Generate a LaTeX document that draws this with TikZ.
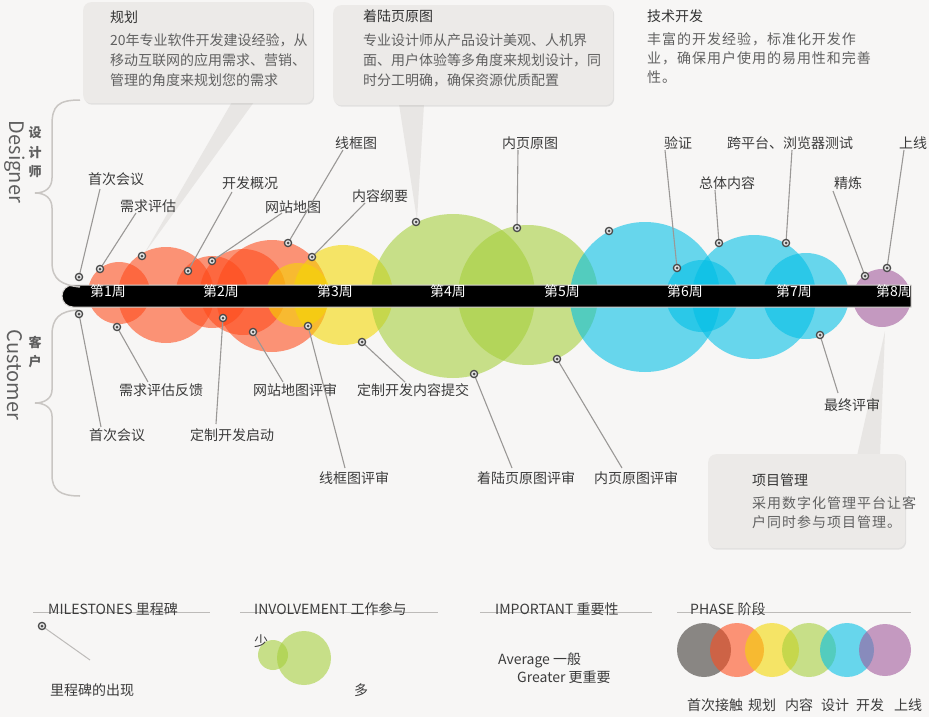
\documentclass[tikz,border=0pt]{standalone}
\usepackage{fontspec}
\setmainfont{Noto Sans CJK SC}
\newfontfamily\spcjk[LetterSpace=7]{Noto Sans CJK SC}
\usetikzlibrary{shadows}
\definecolor{bg}{HTML}{F7F6F5}
\definecolor{boxc}{HTML}{ECEAE8}
\definecolor{tailc}{HTML}{E8E6E4}
\definecolor{txt}{HTML}{3C3C3C}
\definecolor{bodyc}{HTML}{616161}
\definecolor{titc}{HTML}{333333}
\definecolor{lineg}{HTML}{9A9896}
\definecolor{bracec}{HTML}{C9C6C3}
\definecolor{hdrline}{HTML}{BDBBB9}
\definecolor{sidec}{HTML}{5F5F5F}
\definecolor{msc}{HTML}{4A4A4A}
\definecolor{barline}{HTML}{D9D6D3}
\definecolor{cgray}{HTML}{3A3632}
\definecolor{ccoral}{HTML}{FF4A1A}
\definecolor{cyel}{HTML}{F5D800}
\definecolor{cgreen}{HTML}{A5CF3A}
\definecolor{cblue}{HTML}{00BFE6}
\definecolor{cpurp}{HTML}{A0569A}
\begin{document}
\begin{tikzpicture}[x=1pt,y=-1pt,
  lbl/.style={inner sep=0pt, text=txt, font=\fontsize{14}{16}\selectfont},
  wk/.style={inner sep=0pt, text=white, font=\fontsize{14}{16}\selectfont},
  ctitle/.style={inner sep=0pt, anchor=west, text=titc, font=\fontsize{14}{16}\selectfont},
  cbody/.style={inner sep=0pt, anchor=west, text=bodyc, font=\fontsize{14}{16}\selectfont},
  sbody/.style={inner sep=0pt, anchor=west, text=bodyc, font=\spcjk\fontsize{14}{16}\selectfont},
  cbox/.style={fill=boxc, rounded corners=8pt, inner sep=0pt, anchor=north west,
    drop shadow={shadow xshift=1pt, shadow yshift=-1.5pt, opacity=0.18}},
  conn/.style={draw=lineg, line width=1.1pt},
  tailsh/.style={fill=tailc},
  bub/.style={opacity=0.58},
  brc/.style={draw=bracec, line width=1.5pt},
  hdr/.style={inner sep=0pt, anchor=west, text=txt, font=\fontsize{14}{16}\selectfont},
  hdrl/.style={draw=hdrline, line width=0.9pt},
  side/.style={inner sep=0pt, text=sidec, font=\fontsize{20}{22}\selectfont, rotate=-90},
  sidecn/.style={inner sep=0pt, text=sidec, font=\bfseries\fontsize{13}{15}\selectfont},
  msdot/.pic={\fill[msc] (0,0) circle (4.3); \fill[white!80!gray] (0,0) circle (2.8); \fill[msc] (0,0) circle (1.5);}
]
% background
\fill[bg] (0,0) rectangle (929,717);
\useasboundingbox (0,0) rectangle (929,717);

% callout tails
\fill[tailsh] (232,102) -- (254,102) -- (144,254) -- cycle;
\fill[tailsh] (399,104) -- (424,104) -- (417,220) -- cycle;
\fill[tailsh] (857,456) -- (880,456) -- (885,331) -- cycle;

% bubbles
\fill[ccoral,bub] (119,293) circle (31);
\fill[ccoral,bub] (166,295) circle (48);
\fill[ccoral,bub] (212,292) circle (36);
\fill[ccoral,bub] (243,292) circle (43);
\fill[ccoral,bub] (272,296) circle (56);
\fill[cyel,bub] (298,295) circle (32);
\fill[cyel,bub] (343,295) circle (50);
\fill[cgreen,bub] (453,296) circle (82);
\fill[cgreen,bub] (528,295) circle (70);
\fill[cblue,bub] (645,297) circle (75);
\fill[cblue,bub] (702,296) circle (36);
\fill[cblue,bub] (754,297) circle (62);
\fill[cblue,bub] (806,296) circle (43);
\fill[cpurp,bub] (882,298) circle (29);

% timeline bar
\draw[fill=black, draw=barline, line width=1pt] (911,285) -- (73,285) arc[start angle=270, end angle=90, radius=11] -- (911,307) -- cycle;
\foreach \i/\x in {1/108,2/221,3/335,4/448,5/562,6/685,7/794,8/894}
  \node[wk] (w\i) at (\x,291) {第\i 周};

% braces
\draw[brc] (80,100) .. controls (58,100) and (52,106) .. (52,125) -- (52,178)
  .. controls (52,188) and (45,193) .. (35,193) .. controls (45,193) and (52,198) .. (52,208)
  -- (52,262) .. controls (52,280) and (62,285) .. (80,287);
\draw[brc] (78,310) .. controls (60,311) and (52,318) .. (52,335) -- (52,390)
  .. controls (52,398) and (45,403) .. (35,403) .. controls (45,403) and (52,408) .. (52,416)
  -- (52,475) .. controls (52,490) and (60,496) .. (80,496);
\node[side] (sdes) at (15,162) {Designer};
\node[side] (scus) at (15,375) {Customer};
\node[sidecn] (s1) at (35,133) {设};
\node[sidecn] (s2) at (35,153) {计};
\node[sidecn] (s3) at (35,172) {师};
\node[sidecn] (s4) at (35,342) {客};
\node[sidecn] (s5) at (35,362) {户};

% callouts
\node[cbox, minimum width=230pt, minimum height=101pt] (cb1) at (83,2) {};
\node[ctitle] (cb1t) at (110,17) {规划};
\node[cbody] (cb1a) at (110,40) {20年专业软件开发建设经验，从};
\node[cbody] (cb1b) at (110,60) {移动互联网的应用需求、营销、};
\node[cbody] (cb1c) at (110,80) {管理的角度来规划您的需求};

\node[cbox, minimum width=280pt, minimum height=100pt] (cb2) at (333,5) {};
\node[ctitle] (cb2t) at (363,16) {着陆页原图};
\node[cbody] (cb2a) at (363,40) {专业设计师从产品设计美观、人机界};
\node[cbody] (cb2b) at (363,60) {面、用户体验等多角度来规划设计，同};
\node[cbody] (cb2c) at (363,80) {时分工明确，确保资源优质配置};

\node[ctitle] (cb3t) at (647,16) {技术开发};
\node[sbody] (cb3a) at (647,39) {丰富的开发经验，标准化开发作};
\node[sbody] (cb3b) at (647,58) {业，确保用户使用的易用性和完善};
\node[sbody] (cb3c) at (647,77) {性。};

\node[cbox, minimum width=197pt, minimum height=94pt] (cb4) at (708,454) {};
\node[ctitle] (cb4t) at (752,480) {项目管理};
\node[sbody] (cb4a) at (752,503) {采用数字化管理平台让客};
\node[sbody] (cb4b) at (752,522) {户同时参与项目管理。};

% milestones with labels
\foreach \n/\dx/\dy/\ex/\ey/\lx/\ly/\lab in {
 a/79/277/100/189/116/179/首次会议,
 b/100/269/136/213/148/206/需求评估,
 c/188/271/232/192/250/183/开发概况,
 d/212/261/282/213/293/207/网站地图,
 e/288/243/343/150/356/143/线框图,
 f/312/257/365/203/380/196/内容纲要,
 g/517/228/518/150/530/143/内页原图,
 h/677/268/665/150/678/143/验证,
 i/719/243/715/190/727/183/总体内容,
 j/786/243/792/150/790/143/跨平台、浏览器测试,
 k/865/276/833/191/848/183/精炼,
 m/79/314/101/427/117/435/首次会议,
 n/117/327/148/382/161/390/需求评估反馈,
 o/223/318/216/424/232/435/定制开发启动,
 p/253/332/283/382/295/390/网站地图评审,
 q/308/326/345/468/354/478/线框图评审,
 r/362/342/405/382/413/390/定制开发内容提交,
 s/474/374/512/468/526/478/着陆页原图评审,
 t/557/359/622/468/636/478/内页原图评审,
 u/820/335/838/393/852/405/最终评审} {
  \coordinate (d\n) at (\dx,\dy);
  \coordinate (e\n) at (\ex,\ey);
  \node[lbl] (l\n) at (\lx,\ly) {\lab};
  \draw[conn] (d\n) -- (e\n);
}
\coordinate (dy) at (887,268);
\coordinate (ey) at (904,150);
\node[lbl, anchor=west] (ly) at (899,143) {上线};
\draw[conn] (dy) -- (ey);
\coordinate (dv) at (142,256);
\coordinate (dw) at (416,222);
\coordinate (dx) at (609,231);
\foreach \n in {a,b,c,d,e,f,g,h,i,j,k,m,n,o,p,q,r,s,t,u,v,w,x,y}
  \pic at (d\n) {msdot};

% legend
\draw[hdrl] (33,612) -- (210,612);
\node[hdr] (h1) at (48,609) {MILESTONES 里程碑};
\coordinate (dz) at (42,626);
\coordinate (ez) at (90,660);
\draw[draw=hdrline, line width=1pt] (dz) -- (ez);
\pic at (dz) {msdot};
\node[hdr] (h1a) at (50,690) {里程碑的出现};

\draw[hdrl] (240,612) -- (438,612);
\node[hdr] (h2) at (254,609) {INVOLVEMENT 工作参与};
\fill[cgreen,bub] (273,655) circle (15);
\fill[cgreen,bub] (304,658) circle (27);
\node[lbl] (h2a) at (261,641) {少};
\node[lbl] (h2b) at (361,690) {多};

\draw[hdrl] (480,612) -- (652,612);
\node[hdr] (h3) at (495,609) {IMPORTANT 重要性};
\node[hdr] (h3a) at (498,660) {Average 一般};
\node[hdr] (h3b) at (517,677) {Greater 更重要};

\draw[hdrl] (677,612) -- (911,612);
\node[hdr] (h4) at (690,609) {PHASE 阶段};
\fill[cgray,bub] (704,650) circle (27);
\fill[ccoral,bub] (737,650) circle (27);
\fill[cyel,bub] (772,650) circle (27);
\fill[cgreen,bub] (809,650) circle (27);
\fill[cblue,bub] (847,650) circle (27);
\fill[cpurp,bub] (885,650) circle (26);
\node[lbl] (p1) at (715,705) {首次接触};
\node[lbl] (p2) at (762,705) {规划};
\node[lbl] (p3) at (799,705) {内容};
\node[lbl] (p4) at (835,705) {设计};
\node[lbl] (p5) at (870,705) {开发};
\node[lbl] (p6) at (908,705) {上线};
\end{tikzpicture}
\end{document}
